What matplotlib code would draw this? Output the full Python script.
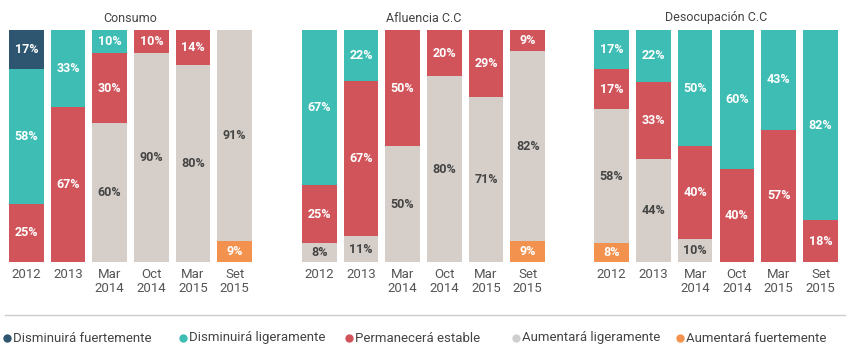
import matplotlib
matplotlib.use("Agg")
import matplotlib.pyplot as plt
from matplotlib.lines import Line2D
import numpy as np

plt.rcParams['font.family'] = ['Roboto', 'DejaVu Sans']

periods = ["2012", "2013", "Mar\n2014", "Oct\n2014", "Mar\n2015", "Set\n2015"]
categories = ["Aumentará fuertemente", "Aumentará ligeramente", "Permanecerá estable",
              "Disminuirá ligeramente", "Disminuirá fuertemente"]
legend_order = ["Disminuirá fuertemente", "Disminuirá ligeramente", "Permanecerá estable",
                "Aumentará ligeramente", "Aumentará fuertemente"]
colors = {
    "Disminuirá fuertemente": "#2e5670",
    "Disminuirá ligeramente": "#3ebdb4",
    "Permanecerá estable": "#d1545b",
    "Aumentará ligeramente": "#d6cec8",
    "Aumentará fuertemente": "#f3924f",
}
text_colors = {
    "Disminuirá fuertemente": "white",
    "Disminuirá ligeramente": "white",
    "Permanecerá estable": "white",
    "Aumentará ligeramente": "#444444",
    "Aumentará fuertemente": "white",
}

titles = ["Consumo", "Afluencia C.C", "Desocupación C.C"]

# values per category (bottom->top order as in `categories`), per period
consumo_aum_fuerte = [0, 0, 0, 0, 0, 9]
consumo_aum_lig = [0, 0, 60, 90, 80, 91]
consumo_estable = [25, 67, 30, 10, 14, 0]
consumo_dis_lig = [58, 33, 10, 0, 0, 0]
consumo_dis_fuerte = [17, 0, 0, 0, 0, 0]

afluencia_aum_fuerte = [0, 0, 0, 0, 0, 9]
afluencia_aum_lig = [8, 11, 50, 80, 71, 82]
afluencia_estable = [25, 67, 50, 20, 29, 9]
afluencia_dis_lig = [67, 22, 0, 0, 0, 0]
afluencia_dis_fuerte = [0, 0, 0, 0, 0, 0]

desoc_aum_fuerte = [8, 0, 0, 0, 0, 0]
desoc_aum_lig = [58, 44, 10, 0, 0, 0]
desoc_estable = [17, 33, 40, 40, 57, 18]
desoc_dis_lig = [17, 22, 50, 60, 43, 82]
desoc_dis_fuerte = [0, 0, 0, 0, 0, 0]

panels = [
    [consumo_aum_fuerte, consumo_aum_lig, consumo_estable, consumo_dis_lig, consumo_dis_fuerte],
    [afluencia_aum_fuerte, afluencia_aum_lig, afluencia_estable, afluencia_dis_lig, afluencia_dis_fuerte],
    [desoc_aum_fuerte, desoc_aum_lig, desoc_estable, desoc_dis_lig, desoc_dis_fuerte],
]

W, H = 850, 357
fig = plt.figure(figsize=(W / 100, H / 100), dpi=100)
fig.patch.set_facecolor("white")

panel_px = [(9, 252), (302, 545), (594, 838)]
top_px, bot_px = 30, 262
bw = 0.83

for p, (series, title, (x0, x1)) in enumerate(zip(panels, titles, panel_px)):
    ax = fig.add_axes([x0 / W, 1 - bot_px / H, (x1 - x0) / W, (bot_px - top_px) / H])
    data = np.array(series, dtype=float)
    totals = data.sum(axis=0)
    frac = data / totals
    x = np.arange(len(periods))
    bottom = np.zeros(len(periods))
    for ci, cat in enumerate(categories):
        ax.bar(x, frac[ci], width=bw, bottom=bottom, color=colors[cat], linewidth=0)
        for i in range(len(periods)):
            if data[ci, i] > 0:
                ax.text(x[i], bottom[i] + frac[ci, i] / 2, f"{int(data[ci, i])}%",
                        ha="center", va="center", fontsize=9, fontweight="bold",
                        color=text_colors[cat])
        bottom += frac[ci]
    ax.set_xlim(-bw / 2, len(periods) - 1 + bw / 2)
    ax.set_ylim(0, 1)
    ax.set_xticks(x)
    ax.set_xticklabels(periods, fontsize=9.5, color="#555555", linespacing=1.1)
    ax.tick_params(axis="x", length=0, pad=4)
    ax.set_yticks([])
    for s in ax.spines.values():
        s.set_visible(False)
    fig.text((x0 + x1) / 2 / W, 1 - 18 / H, title, ha="center", va="center",
             fontsize=9, color="#444444")

# separator line
fig.add_artist(Line2D([5 / W, 845 / W], [1 - 315 / H, 1 - 315 / H],
                      color="#cccccc", linewidth=1))

legend_x = [7, 183, 349, 516, 680]
ly = 1 - 338 / H
for lx, cat in zip(legend_x, legend_order):
    fig.add_artist(Line2D([lx / W], [ly], marker="o", markersize=5,
                          color=colors[cat] if cat != "Aumentará ligeramente" else "#cfcfcf",
                          linestyle="none"))
    fig.text((lx + 6) / W, ly, cat, ha="left", va="center", fontsize=9.5, color="#444444")

fig.savefig("out.png", dpi=100, facecolor="white")
